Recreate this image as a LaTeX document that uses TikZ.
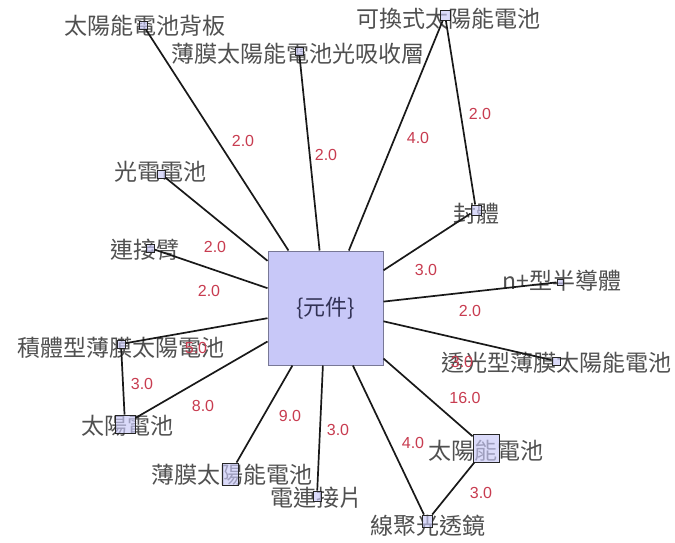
\documentclass[tikz,border=0pt]{standalone}
\usepackage{fontspec}
\setmainfont{Liberation Sans}
\newfontfamily\cjk{Noto Sans CJK TC}
\definecolor{boxfill}{RGB}{200,200,248}
\definecolor{boxline}{RGB}{120,120,150}
\definecolor{txt}{RGB}{80,80,80}
\definecolor{wred}{RGB}{200,60,80}
\definecolor{ctxt}{RGB}{50,50,85}
\begin{document}
\begin{tikzpicture}[x=1pt,y=-1pt,
  lbl/.style={font=\cjk\fontsize{23}{23}\selectfont, text=txt, inner sep=0pt},
  mk/.style={draw=black!85, fill=boxfill, fill opacity=0.65, line width=0.9pt, inner sep=0pt, minimum width=8pt, minimum height=8pt},
  center/.style={draw=boxline, fill=boxfill, line width=1pt, minimum width=115pt, minimum height=114pt, inner sep=0pt, font=\cjk\fontsize{22}{22}\selectfont, text=ctxt},
  edge/.style={draw=black!90, line width=1.7pt},
  wt/.style={font=\fontsize{16}{16}\selectfont, text=wred, inner sep=0pt}]
\useasboundingbox (0,0) rectangle (675,542);
\fill[white] (0,0) rectangle (675,542);
% texts
\node[lbl] (t1) at (145,26) {太陽能電池背板};
\node[lbl] (t2) at (298,54) {薄膜太陽能電池光吸收層};
\node[lbl] (t3) at (448,19) {可換式太陽能電池};
\node[lbl] (t4) at (476,214) {封體};
\node[lbl] (t5) at (562,281) {n+型半導體};
\node[lbl] (t6) at (556,363) {透光型薄膜太陽能電池};
\node[lbl] (t7) at (486,451) {太陽能電池};
\node[lbl] (t8) at (428,526) {線聚光透鏡};
\node[lbl] (t9) at (316,498) {電連接片};
\node[lbl] (t10) at (232,475) {薄膜太陽能電池};
\node[lbl] (t11) at (127,426) {太陽電池};
\node[lbl] (t12) at (121,348) {積體型薄膜太陽電池};
\node[lbl] (t13) at (145,250) {連接臂};
\node[lbl] (t14) at (160,172) {光電電池};
% markers
\node[mk] (m1) at (143,25) {};
\node[mk] (m2) at (299,51) {};
\node[mk, minimum width=10pt, minimum height=10pt] (m3) at (445,15) {};
\node[mk, minimum width=10pt, minimum height=10pt] (m4) at (476,210) {};
\node[mk, minimum width=6pt, minimum height=6pt] (m5) at (560,282) {};
\node[mk] (m6) at (556,361) {};
\node[mk, minimum width=26pt, minimum height=28pt] (m7) at (486,448) {};
\node[mk, minimum width=10pt, minimum height=12pt] (m8) at (427,521) {};
\node[mk, minimum width=8pt, minimum height=10pt] (m9) at (317,496) {};
\node[mk, minimum width=16pt, minimum height=22pt] (m10) at (230,474) {};
\node[mk, minimum width=20pt, minimum height=18pt] (m11) at (125,424) {};
\node[mk] (m12) at (121,344) {};
\node[mk] (m13) at (150,248) {};
\node[mk] (m14) at (161,174) {};
% center
\node[center] (c) at (325.5,308) {\{元件\}};
% edges
\foreach \m in {m1,m2,m3,m4,m5,m6,m7,m8,m9,m10,m11,m12,m13,m14}
  \draw[edge] (c) -- (\m);
\draw[edge] (m3) -- (m4);
\draw[edge] (m7) -- (m8);
\draw[edge] (m11) -- (m12);
% weights
\node[wt] (w1) at (243,141) {2.0};
\node[wt] (w2) at (326,155) {2.0};
\node[wt] (w3) at (418,138) {4.0};
\node[wt] (w3b) at (480,114) {2.0};
\node[wt] (w4) at (426,270) {3.0};
\node[wt] (w5) at (470,311) {2.0};
\node[wt] (w6) at (462,362) {3.0};
\node[wt] (w7) at (465,398) {16.0};
\node[wt] (w7b) at (481,493) {3.0};
\node[wt] (w8) at (413,443) {4.0};
\node[wt] (w9) at (338,430) {3.0};
\node[wt] (w10) at (290,416) {9.0};
\node[wt] (w11) at (203,406) {8.0};
\node[wt] (w11b) at (142,384) {3.0};
\node[wt] (w12) at (196,348) {5.0};
\node[wt] (w13) at (209,291) {2.0};
\node[wt] (w14) at (215,247) {2.0};
\end{tikzpicture}
\end{document}
